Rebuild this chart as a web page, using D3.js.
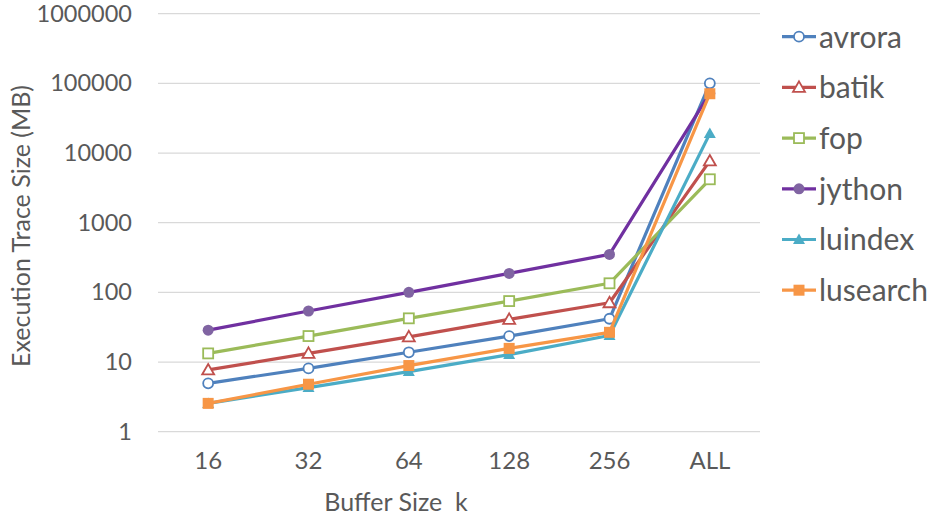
<!DOCTYPE html>
<html>
<head>
<meta charset="utf-8">
<script src="https://cdn.jsdelivr.net/npm/d3@7"></script>
<style>
  body { margin: 0; background: #fff; }
  text { font-family: Lato, "Open Sans", sans-serif; fill: #595959; }
</style>
</head>
<body>
<svg id="chart" width="934" height="521"></svg>
<script>
// Buffer sizes on the x axis
const categories = ["16", "32", "64", "128", "256", "ALL"];

// Execution trace size (MB) per benchmark
const avrora   = [4.95, 8.1, 13.8, 23.6, 41.8, 100000];
const batik    = [7.7, 13.3, 23, 41, 71, 7700];
const fop      = [13.3, 23.6, 42.4, 75, 135, 4200];
const jython   = [28.7, 54, 100, 187, 351, 72000];
const luindex  = [2.55, 4.3, 7.3, 12.8, 24, 19000];
const lusearch = [2.55, 4.8, 8.9, 15.7, 26.7, 71000];

const yTicks = [1, 10, 100, 1000, 10000, 100000, 1000000];

const series = [
  { name: "avrora",   values: avrora,   line: "#4F81BD", mark: "#4F81BD", shape: "circle",   filled: false },
  { name: "batik",    values: batik,    line: "#C0504D", mark: "#C0504D", shape: "triangle", filled: false },
  { name: "fop",      values: fop,      line: "#9BBB59", mark: "#9BBB59", shape: "square",   filled: false },
  { name: "jython",   values: jython,   line: "#7030A0", mark: "#8064A2", shape: "circle",   filled: true },
  { name: "luindex",  values: luindex,  line: "#4BACC6", mark: "#4BACC6", shape: "triangle", filled: true },
  { name: "lusearch", values: lusearch, line: "#F79646", mark: "#F79646", shape: "square",   filled: true }
];

const svg = d3.select("#chart");
const plot = { left: 158, right: 760, top: 13.7, bottom: 431.7 };

const x = d3.scaleBand().domain(categories).range([plot.left, plot.right]);
const cx = c => x(c) + x.bandwidth() / 2;
const y = d3.scaleLog().domain([1, 1000000]).range([plot.bottom, plot.top]);

// Horizontal gridlines
svg.append("g").selectAll("line").data(yTicks).join("line")
  .attr("x1", plot.left).attr("x2", plot.right)
  .attr("y1", d => y(d)).attr("y2", d => y(d))
  .attr("stroke", "#d9d9d9").attr("stroke-width", 1.3);

// Y axis tick labels
const yAxis = svg.append("g").attr("transform", `translate(${plot.left},0)`)
  .call(d3.axisLeft(y).tickValues(yTicks).tickFormat(d3.format("d")).tickSize(0).tickPadding(26));
yAxis.select(".domain").remove();
yAxis.selectAll("text").style("font-size", "23.5px").style("fill", "#595959")
  .style("font-family", "Lato, sans-serif");

// X axis tick labels
const xAxis = svg.append("g").attr("transform", `translate(0,${plot.bottom})`)
  .call(d3.axisBottom(x).tickSize(0).tickPadding(20));
xAxis.select(".domain").remove();
xAxis.selectAll("text").style("font-size", "24px").style("fill", "#595959")
  .style("font-family", "Lato, sans-serif");

// Axis titles
svg.append("text").attr("x", 396).attr("y", 511).attr("text-anchor", "middle")
  .attr("xml:space", "preserve").style("white-space", "pre")
  .style("font-size", "25px").text("Buffer Size  k");
svg.append("text").attr("transform", "translate(30,226) rotate(-90)")
  .attr("text-anchor", "middle").style("font-size", "25px")
  .text("Execution Trace Size (MB)");

const line = d3.line().x((d, i) => cx(categories[i])).y(d => y(d));

function drawMarker(g, s, px, py) {
  const fill = s.filled ? s.mark : "#fff";
  if (s.shape === "circle") {
    g.append("circle").attr("cx", px).attr("cy", py).attr("r", s.filled ? 5.5 : 5)
      .attr("fill", fill).attr("stroke", s.mark).attr("stroke-width", s.filled ? 0 : 1.8);
  } else if (s.shape === "square") {
    const h = s.filled ? 5.5 : 5;
    g.append("rect").attr("x", px - h).attr("y", py - h).attr("width", 2 * h).attr("height", 2 * h)
      .attr("fill", fill).attr("stroke", s.mark).attr("stroke-width", s.filled ? 0 : 1.8);
  } else {
    const h = 6;
    g.append("path")
      .attr("d", `M${px},${py - h}L${px + h},${py + h * 0.75}L${px - h},${py + h * 0.75}Z`)
      .attr("fill", fill).attr("stroke", s.mark).attr("stroke-width", s.filled ? 0 : 1.8);
  }
}

// Series lines and markers
series.forEach(s => {
  const g = svg.append("g");
  g.append("path").datum(s.values).attr("d", line)
    .attr("fill", "none").attr("stroke", s.line).attr("stroke-width", 3.2)
    .attr("stroke-linejoin", "round").attr("stroke-linecap", "round");
  s.values.forEach((v, i) => drawMarker(g, s, cx(categories[i]), y(v)));
});

// Legend
const legend = svg.append("g");
series.forEach((s, i) => {
  const ly = 36.7 + i * 50.7;
  const g = legend.append("g");
  g.append("line").attr("x1", 782).attr("x2", 816).attr("y1", ly).attr("y2", ly)
    .attr("stroke", s.line).attr("stroke-width", 3.2);
  drawMarker(g, s, 799, ly);
  g.append("text").attr("x", 819).attr("y", ly).attr("dy", "0.36em")
    .style("font-size", "30px").text(s.name);
});
</script>
</body>
</html>
